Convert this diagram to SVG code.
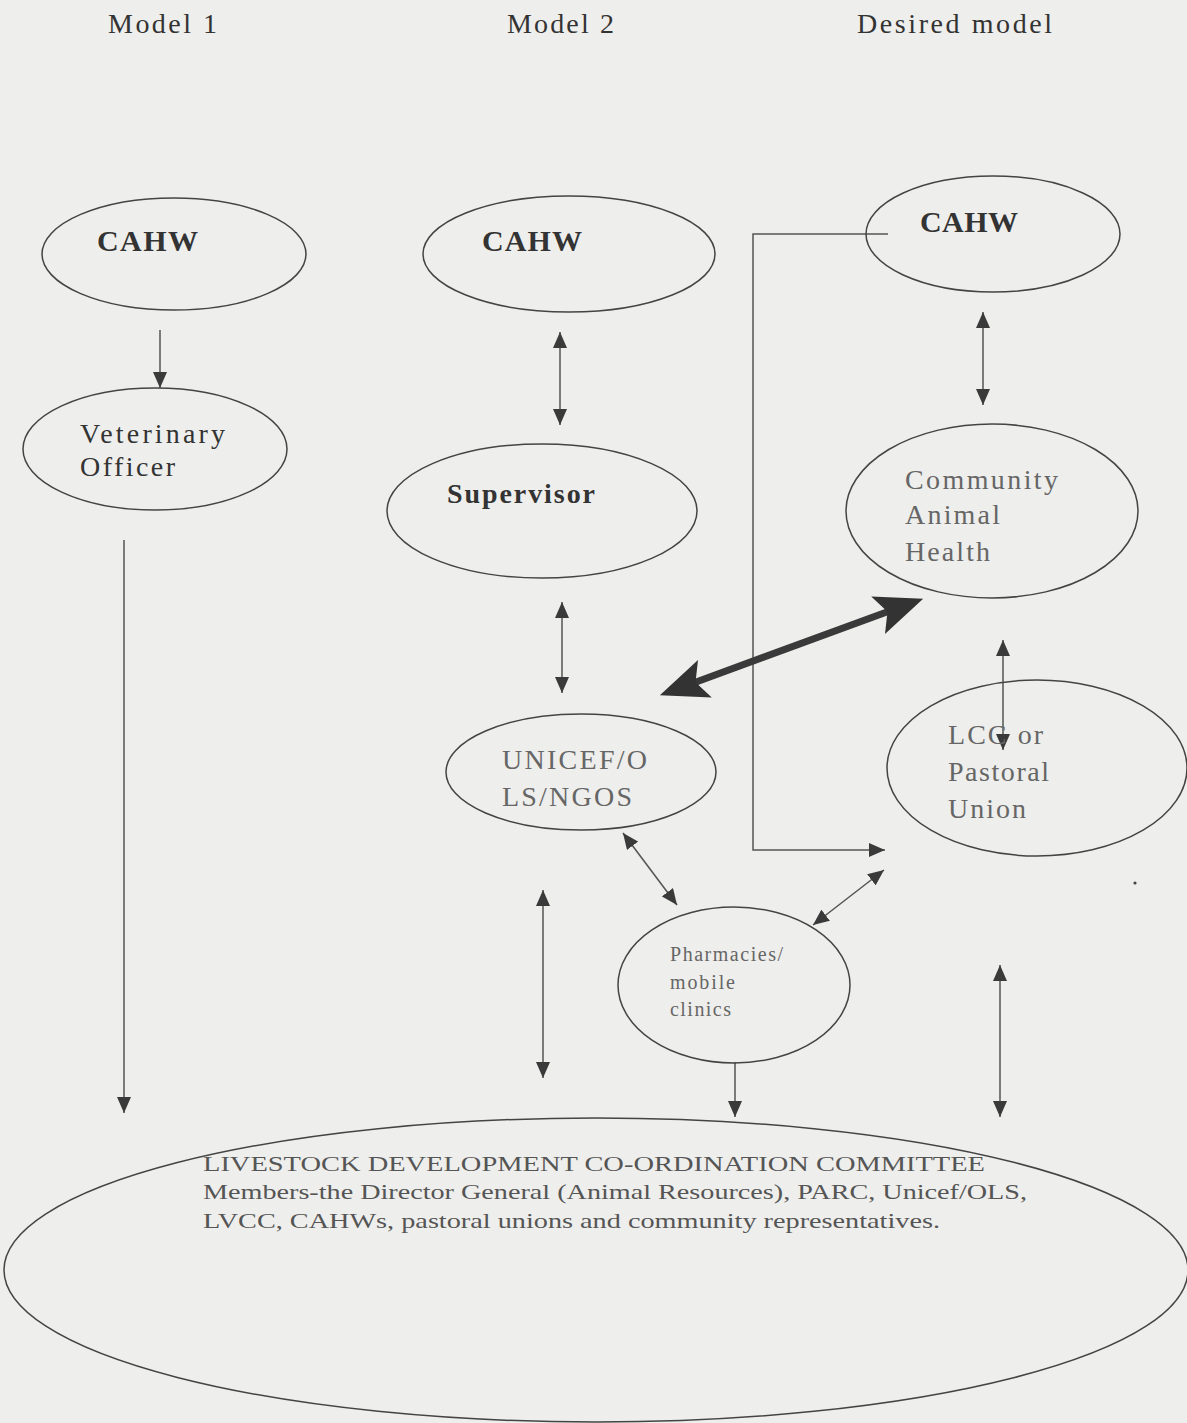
<svg xmlns="http://www.w3.org/2000/svg" width="1187" height="1423" viewBox="0 0 1187 1423">
<style>
.bg{fill:#eeeeec}
.node{fill:none;stroke:#444;stroke-width:1.5}
.t{font-family:"Liberation Serif","Times New Roman",serif;fill:#2e2e2e}
.title{font-size:28px;fill:#333}
.b{font-size:30px;font-weight:bold;fill:#333}
.g{font-size:28px;fill:#666}
.s{font-size:20px;fill:#666}
.foot{font-size:22px;fill:#555}
.c{fill:none;stroke:#555;stroke-width:1.5}
.thick{fill:none;stroke:#3a3a3a;stroke-width:7}
</style>
<defs>
<marker id="ah" markerUnits="userSpaceOnUse" markerWidth="16" markerHeight="14" refX="16" refY="7" orient="auto-start-reverse" viewBox="0 0 16 14">
<path d="M0,0 L16,7 L0,14 z" fill="#3a3a3a"/>
</marker>
<marker id="big" markerUnits="userSpaceOnUse" markerWidth="48" markerHeight="40" refX="18" refY="20" orient="auto-start-reverse" viewBox="0 0 48 40">
<path d="M0,0 L48,20 L0,40 L10,20 z" fill="#333"/>
</marker>
</defs>
<rect class="bg" x="0" y="0" width="1187" height="1423"/>

<g id="titles">
<text class="t title" x="108" y="33" textLength="109" lengthAdjust="spacing">Model 1</text>
<text class="t title" x="507" y="33" textLength="107" lengthAdjust="spacing">Model 2</text>
<text class="t title" x="857" y="33" textLength="195" lengthAdjust="spacing">Desired model</text>
</g>

<g id="connectors">
<path class="c" d="M160,330 V388" marker-end="url(#ah)"/>
<path class="c" d="M124,540 V1113" marker-end="url(#ah)"/>
<path class="c" d="M560,332 V425" marker-start="url(#ah)" marker-end="url(#ah)"/>
<path class="c" d="M562,602 V693" marker-start="url(#ah)" marker-end="url(#ah)"/>
<path class="c" d="M983,312 V405" marker-start="url(#ah)" marker-end="url(#ah)"/>
<path class="c" d="M1003,640 V750" marker-start="url(#ah)" marker-end="url(#ah)"/>
<path class="c" d="M888,234 H753 V850 H885" marker-end="url(#ah)"/>
<path class="c" d="M623,833 L677,905" marker-start="url(#ah)" marker-end="url(#ah)"/>
<path class="c" d="M813,925 L884,870" marker-start="url(#ah)" marker-end="url(#ah)"/>
<path class="c" d="M543,890 V1078" marker-start="url(#ah)" marker-end="url(#ah)"/>
<path class="c" d="M735,1062 V1117" marker-end="url(#ah)"/>
<path class="c" d="M1000,965 V1117" marker-start="url(#ah)" marker-end="url(#ah)"/>
<path class="thick" d="M688,685 L895,609" marker-start="url(#big)" marker-end="url(#big)"/>
</g>

<g id="m1-cahw">
<ellipse class="node" cx="174" cy="254" rx="132" ry="56"/>
<text class="t b" x="97" y="251" textLength="101" lengthAdjust="spacing">CAHW</text>
</g>
<g id="m1-vet">
<ellipse class="node" cx="155" cy="449" rx="132" ry="61"/>
<text class="t g" x="80" y="443" textLength="145" lengthAdjust="spacing" style="fill:#333">Veterinary</text>
<text class="t g" x="80" y="476" textLength="95" lengthAdjust="spacing" style="fill:#333">Officer</text>
</g>

<g id="m2-cahw">
<ellipse class="node" cx="569" cy="254" rx="146" ry="58"/>
<text class="t b" x="482" y="251" textLength="100" lengthAdjust="spacing">CAHW</text>
</g>
<g id="m2-supervisor">
<ellipse class="node" cx="542" cy="511" rx="155" ry="67"/>
<text class="t b" x="447" y="503" textLength="148" lengthAdjust="spacing" style="font-size:28px">Supervisor</text>
</g>
<g id="m2-unicef">
<ellipse class="node" cx="581" cy="772" rx="135" ry="58"/>
<text class="t g" x="502" y="769" textLength="145" lengthAdjust="spacing">UNICEF/O</text>
<text class="t g" x="502" y="806" textLength="130" lengthAdjust="spacing">LS/NGOS</text>
</g>

<g id="d-cahw">
<ellipse class="node" cx="993" cy="234" rx="127" ry="58"/>
<text class="t b" x="920" y="232" textLength="98" lengthAdjust="spacing">CAHW</text>
</g>
<g id="d-community">
<ellipse class="node" cx="992" cy="511" rx="146" ry="87"/>
<text class="t g" x="905" y="489" textLength="153" lengthAdjust="spacing">Community</text>
<text class="t g" x="905" y="524" textLength="95" lengthAdjust="spacing">Animal</text>
<text class="t g" x="905" y="561" textLength="85" lengthAdjust="spacing">Health</text>
</g>
<g id="d-lcc">
<ellipse class="node" cx="1037" cy="768" rx="150" ry="88"/>
<text class="t g" x="948" y="744" textLength="95" lengthAdjust="spacing">LCC or</text>
<text class="t g" x="948" y="781" textLength="101" lengthAdjust="spacing">Pastoral</text>
<text class="t g" x="948" y="818" textLength="78" lengthAdjust="spacing">Union</text>
</g>
<g id="pharmacies">
<ellipse class="node" cx="734" cy="985" rx="116" ry="78"/>
<text class="t s" x="670" y="961" textLength="113" lengthAdjust="spacing">Pharmacies/</text>
<text class="t s" x="670" y="989" textLength="65" lengthAdjust="spacing">mobile</text>
<text class="t s" x="670" y="1016" textLength="61" lengthAdjust="spacing">clinics</text>
</g>

<g id="committee">
<ellipse class="node" cx="596" cy="1270" rx="592" ry="152"/>
<text class="t foot" x="203" y="1171" textLength="782" lengthAdjust="spacingAndGlyphs">LIVESTOCK DEVELOPMENT CO-ORDINATION COMMITTEE</text>
<text class="t foot" x="203" y="1199" textLength="824" lengthAdjust="spacingAndGlyphs">Members-the Director General (Animal Resources), PARC, Unicef/OLS,</text>
<text class="t foot" x="203" y="1228" textLength="737" lengthAdjust="spacingAndGlyphs">LVCC, CAHWs, pastoral unions and community representatives.</text>
</g>

<circle cx="1135" cy="883" r="1.6" fill="#444"/>
</svg>
